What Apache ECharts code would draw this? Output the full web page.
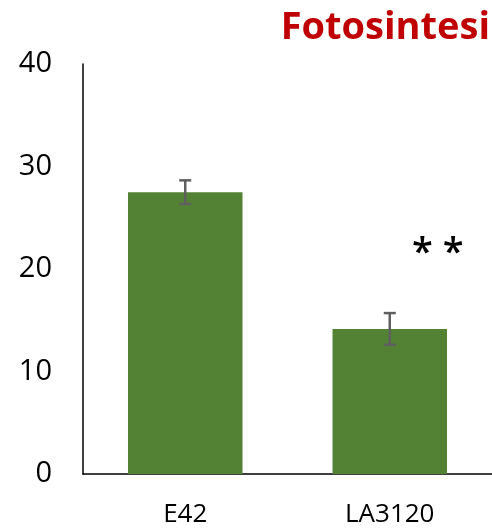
<!DOCTYPE html>
<html><head><meta charset="utf-8">
<script src="https://cdn.jsdelivr.net/npm/echarts@6/dist/echarts.min.js"></script>
<style>html,body{margin:0;padding:0;background:#fff}#c{width:492px;height:530px}</style>
</head><body><div id="c"></div>
<script>
const categories = ['E42', 'LA3120'];
const values = [27.5, 14.15];
const errors = [1.15, 1.55];
const yTicks = [0, 10, 20, 30, 40];
const significance = ['', '**'];
const title = 'Fotosintesi';

const chart = echarts.init(document.getElementById('c'));
const font = 'Open Sans';
chart.setOption({
  animation: false,
  title: {text: title, right: -3, top: 4, textStyle: {color: '#C00000', fontSize: 38, fontWeight: 'bold', fontFamily: font}},
  grid: {left: 83, right: -2, top: 64, bottom: 56},
  xAxis: {type: 'category', data: categories,
    axisLine: {lineStyle: {color: '#000', width: 1.5}}, axisTick: {show: false},
    axisLabel: {color: '#000', fontSize: 26, fontFamily: font, margin: 28}},
  yAxis: {type: 'value', min: yTicks[0], max: yTicks[yTicks.length - 1], interval: 10,
    axisLine: {show: true, lineStyle: {color: '#000', width: 1.5}}, axisTick: {show: false},
    splitLine: {show: false},
    axisLabel: {color: '#000', fontSize: 29, fontFamily: font, margin: 31}},
  series: [
    {type: 'bar', data: values, barWidth: '56%', itemStyle: {color: '#548235'},
     markPoint: {symbol: 'circle', symbolSize: 0,
       data: significance.map((s, i) => s ? {coord: [categories[i], values[i] + errors[i] + 6.3], value: s} : null).filter(Boolean),
       label: {show: true, formatter: p => p.data.value.split('').join(' '), color: '#000', fontSize: 38, fontWeight: 600, fontFamily: font, offset: [48, 6]}}},
    {type: 'custom', data: values.map((v, i) => [i, v - errors[i], v + errors[i]]),
     renderItem: (params, api) => {
       const lo = api.coord([api.value(0), api.value(1)]);
       const hi = api.coord([api.value(0), api.value(2)]);
       const w = 6;
       const st = {stroke: '#5f5f5f', lineWidth: 2.5};
       return {type: 'group', children: [
         {type: 'line', shape: {x1: lo[0], y1: lo[1], x2: hi[0], y2: hi[1]}, style: st},
         {type: 'line', shape: {x1: lo[0] - w, y1: lo[1], x2: lo[0] + w, y2: lo[1]}, style: st},
         {type: 'line', shape: {x1: hi[0] - w, y1: hi[1], x2: hi[0] + w, y2: hi[1]}, style: st}
       ]};
     }, z: 10}
  ]
});
</script></body></html>
